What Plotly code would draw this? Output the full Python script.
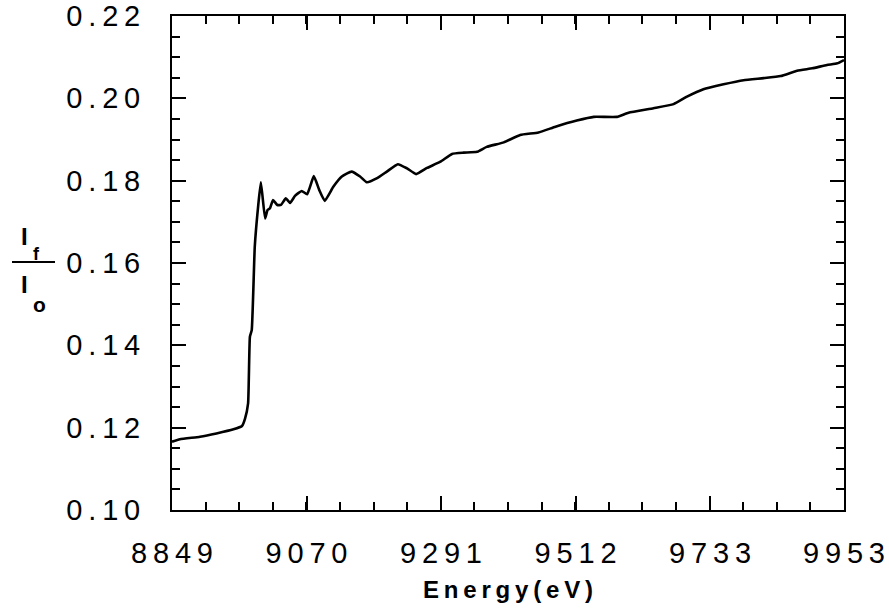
import plotly.graph_objects as go

energy = [8849, 8862, 8895, 8922, 8950, 8964, 8969, 8974, 8977, 8980, 8985, 8991, 8995,
          9002, 9006, 9010, 9015, 9022, 9028, 9036, 9043, 9051, 9062, 9071, 9082, 9091,
          9100, 9114, 9128, 9144, 9158, 9169, 9186, 9202, 9220, 9235, 9250, 9268, 9290,
          9309, 9328, 9350, 9366, 9394, 9421, 9451, 9479, 9514, 9542, 9580, 9599, 9640,
          9673, 9695, 9722, 9755, 9788, 9821, 9849, 9876, 9901, 9925, 9942, 9953]
ratio = [0.1166, 0.1172, 0.1178, 0.1186, 0.1196, 0.1204, 0.1222, 0.1259, 0.1421, 0.1437,
         0.1640, 0.1745, 0.1796, 0.1708, 0.1729, 0.1733, 0.1753, 0.1741, 0.1741, 0.1757,
         0.1746, 0.1763, 0.1775, 0.1767, 0.1811, 0.1777, 0.1751, 0.1785, 0.1810, 0.1822,
         0.1810, 0.1796, 0.1806, 0.1822, 0.1840, 0.1830, 0.1816, 0.1831, 0.1846, 0.1865,
         0.1868, 0.1870, 0.1882, 0.1893, 0.1911, 0.1917, 0.1931, 0.1946, 0.1955, 0.1955,
         0.1965, 0.1976, 0.1986, 0.2004, 0.2022, 0.2034, 0.2044, 0.2049, 0.2054, 0.2067,
         0.2073, 0.2081, 0.2085, 0.2093]

x_ticks = [8849, 9070, 9291, 9512, 9733, 9953]
x_labels = ["8849", "9070", "9291", "9512", "9733", "9953"]
y_ticks = [0.10, 0.12, 0.14, 0.16, 0.18, 0.20, 0.22]
y_labels = ["0.10", "0.12", "0.14", "0.16", "0.18", "0.20", "0.22"]

TS = "\u2009"
def spaced(s):
    return TS.join(list(s))

fig = go.Figure()
fig.add_trace(go.Scatter(x=energy, y=ratio, mode="lines",
                         line=dict(color="black", width=2.6, shape="spline", smoothing=0.4),
                         showlegend=False))

FONT = "Liberation Sans, Arial, Helvetica, sans-serif"
axis_common = dict(
    showgrid=False, zeroline=False, showline=True, linecolor="black", linewidth=2,
    mirror="allticks", ticks="inside", ticklen=14, tickwidth=2, tickcolor="black",
    automargin=False,
    tickfont=dict(family=FONT, size=29, color="black"),
)
fig.update_xaxes(range=[8849, 9953], tickmode="array", tickvals=x_ticks,
                 ticktext=[spaced(t) for t in x_labels], ticklabelstandoff=16,
                 minor=dict(ticks="inside", ticklen=8, tickwidth=2, tickcolor="black",
                            tick0=8849, dtick=55.2, showgrid=False),
                 **axis_common)
fig.update_yaxes(range=[0.10, 0.22], tickmode="array", tickvals=y_ticks,
                 ticktext=[spaced(t) for t in y_labels], ticklabelstandoff=24,
                 minor=dict(ticks="inside", ticklen=8, tickwidth=2, tickcolor="black",
                            tick0=0.10, dtick=0.005, showgrid=False),
                 **axis_common)

fig.add_annotation(text="<b>" + spaced("Energy(eV)") + "</b>", xref="paper", yref="paper",
                   x=0.5, y=-0.161, xanchor="center", yanchor="middle", showarrow=False,
                   font=dict(family=FONT, size=24, color="black"))
# y-axis label: I_f / I_o
fig.add_annotation(text="<b>I</b>", xref="paper", yref="paper", x=-0.2202, y=0.5536,
                   xanchor="center", yanchor="middle", showarrow=False,
                   font=dict(family=FONT, size=24, color="black"))
fig.add_annotation(text="<b>f</b>", xref="paper", yref="paper", x=-0.2009, y=0.5182,
                   xanchor="center", yanchor="middle", showarrow=False,
                   font=dict(family=FONT, size=18, color="black"))
fig.add_annotation(text="<b>I</b>", xref="paper", yref="paper", x=-0.2202, y=0.4555,
                   xanchor="center", yanchor="middle", showarrow=False,
                   font=dict(family=FONT, size=24, color="black"))
fig.add_annotation(text="<b>o</b>", xref="paper", yref="paper", x=-0.1972, y=0.4170,
                   xanchor="center", yanchor="middle", showarrow=False,
                   font=dict(family=FONT, size=21, color="black"))
fig.add_shape(type="line", xref="paper", yref="paper", x0=-0.2381, x1=-0.1741,
              y0=0.502, y1=0.502, line=dict(color="black", width=2))

fig.update_layout(width=889, height=612, margin=dict(l=172, r=45, t=16, b=102),
                  plot_bgcolor="white", paper_bgcolor="white")
fig.write_html("out.html")
